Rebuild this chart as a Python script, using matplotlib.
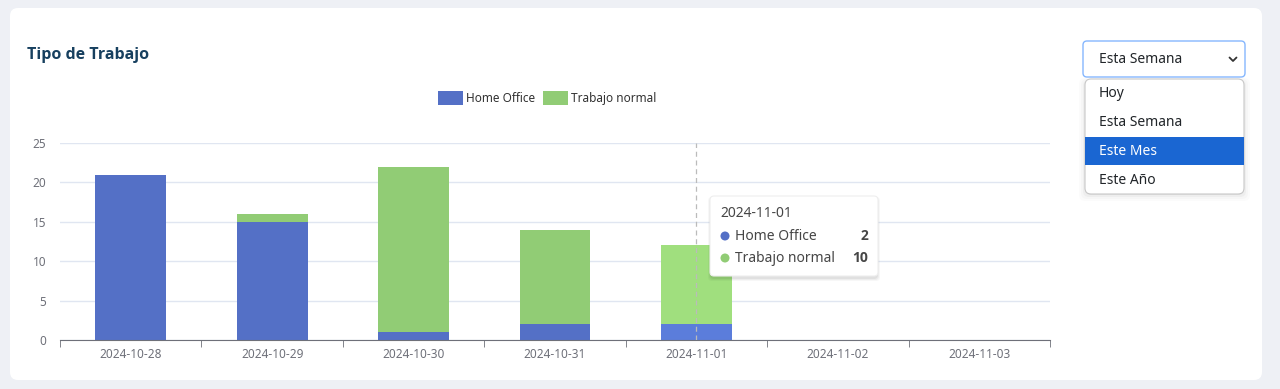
import matplotlib.pyplot as plt
from matplotlib.patches import FancyBboxPatch, Rectangle, Circle
import numpy as np

fechas = ['2024-10-28', '2024-10-29', '2024-10-30', '2024-10-31', '2024-11-01', '2024-11-02', '2024-11-03']
home_office = [21, 15, 1, 2, 2, 0, 0]
trabajo_normal = [0, 1, 21, 12, 10, 0, 0]
y_ticks = [0, 5, 10, 15, 20, 25]
opciones = ['Hoy', 'Esta Semana', 'Este Mes', 'Este Año']
idx_tooltip = 4

plt.rcParams['font.family'] = ['Noto Sans', 'DejaVu Sans']

AZUL = '#5470c6'
VERDE = '#91cc75'
AZUL_HL = '#5b7ddb'
VERDE_HL = '#a0df7e'
GRIS = '#6e7079'

W, H = 1280, 389
fig = plt.figure(figsize=(W / 100, H / 100), dpi=100)
fig.patch.set_facecolor('#eef0f5')

# fondo / tarjeta (coordenadas en pixeles)
bg = fig.add_axes([0, 0, 1, 1], zorder=0)
bg.set_xlim(0, W)
bg.set_ylim(H, 0)
bg.axis('off')
bg.add_patch(FancyBboxPatch((10, 8), 1252, 372, boxstyle='round,pad=0,rounding_size=8',
                            fc='white', ec='none'))
bg.text(27, 55, 'Tipo de Trabajo', fontsize=11.5, fontweight='bold', color='#17405f',
        family=['Open Sans', 'DejaVu Sans'], va='center', ha='left')

# grafico
ax = fig.add_axes([60 / W, 1 - 340 / H, 990 / W, 197 / H], zorder=1)
ax.set_facecolor('none')
x = np.arange(len(fechas))
col_az = [AZUL_HL if i == idx_tooltip else AZUL for i in x]
col_ve = [VERDE_HL if i == idx_tooltip else VERDE for i in x]
ax.bar(x, home_office, width=0.5, color=col_az, zorder=2)
ax.bar(x, trabajo_normal, width=0.5, bottom=home_office, color=col_ve, zorder=2)
ax.axvline(idx_tooltip, color='#bbbbbb', lw=0.9, ls=(0, (4, 3)), zorder=3)

ax.set_xlim(-0.5, len(fechas) - 0.5)
ax.set_ylim(0, 25)
ax.set_yticks(y_ticks)
ax.yaxis.grid(True, color='#e0e6f1', lw=1)
ax.set_axisbelow(True)
for s in ['top', 'right', 'left']:
    ax.spines[s].set_visible(False)
ax.spines['bottom'].set_color(GRIS)
ax.set_xticks(x)
ax.set_xticklabels(fechas)
ax.set_xticks(np.arange(len(fechas) + 1) - 0.5, minor=True)
ax.tick_params(axis='x', which='major', length=0, pad=6, labelsize=8.5, labelcolor=GRIS)
ax.tick_params(axis='x', which='minor', length=5, color=GRIS)
ax.tick_params(axis='y', length=0, pad=10, labelsize=8.5, labelcolor=GRIS)

# capa superior (leyenda, tooltip, menu)
fg = fig.add_axes([0, 0, 1, 1], zorder=5)
fg.set_xlim(0, W)
fg.set_ylim(H, 0)
fg.axis('off')

# leyenda
fg.add_patch(Rectangle((438, 91), 25, 14, fc=AZUL, ec='none'))
fg.text(466, 98, 'Home Office', fontsize=8.5, color='#333333', va='center')
fg.add_patch(Rectangle((543, 91), 25, 14, fc=VERDE, ec='none'))
fg.text(571, 98, 'Trabajo normal', fontsize=8.5, color='#333333', va='center')

# tooltip
for k, a in enumerate([0.05, 0.04, 0.03]):
    fg.add_patch(FancyBboxPatch((710 - k, 197 - k + 2), 168 + 2 * k, 80 + 2 * k,
                                boxstyle='round,pad=0,rounding_size=4', fc='black', ec='none', alpha=a))
fg.add_patch(FancyBboxPatch((710, 196), 168, 80, boxstyle='round,pad=0,rounding_size=4',
                            fc='white', ec='#eeeeee', lw=0.8))
fg.text(720, 213, fechas[idx_tooltip], fontsize=10, color='#464646', va='center')
fg.add_patch(Circle((725, 236), 4.5, fc=AZUL, ec='none'))
fg.text(735, 236, 'Home Office', fontsize=10, color='#464646', va='center')
fg.text(868, 236, str(home_office[idx_tooltip]), fontsize=10, fontweight='bold',
        family=['Open Sans', 'DejaVu Sans'], color='#464646', va='center', ha='right')
fg.add_patch(Circle((725, 258), 4.5, fc=VERDE, ec='none'))
fg.text(735, 258, 'Trabajo normal', fontsize=10, color='#464646', va='center')
fg.text(868, 258, str(trabajo_normal[idx_tooltip]), fontsize=10, fontweight='bold',
        family=['Open Sans', 'DejaVu Sans'], color='#464646', va='center', ha='right')

# selector
fg.add_patch(FancyBboxPatch((1083, 41), 162, 36, boxstyle='round,pad=0,rounding_size=4',
                            fc='white', ec='#86b7fe', lw=1))
fg.text(1099, 59, 'Esta Semana', fontsize=10, color='#212529', va='center')
fg.plot([1229.5, 1233, 1236.5], [57.5, 61, 57.5], color='#333333', lw=1.3, solid_capstyle='round')

# menu desplegable
for k, a in enumerate([0.04, 0.03, 0.02, 0.015]):
    fg.add_patch(FancyBboxPatch((1085 - 2 * k, 81 - k), 159 + 4 * k, 114 + 3 * k,
                                boxstyle='round,pad=0,rounding_size=6', fc='black', ec='none', alpha=a))
fg.add_patch(FancyBboxPatch((1085, 79), 159, 115, boxstyle='round,pad=0,rounding_size=6',
                            fc='white', ec='#c8c8c8', lw=0.8))
fg.add_patch(Rectangle((1085, 137), 159, 28, fc='#1a66d2', ec='none'))
for i, op in enumerate(opciones):
    yy = 93 + i * 29
    fg.text(1099, yy, op, fontsize=10, color='white' if op == 'Este Mes' else '#212529', va='center')

fig.savefig('out.png', dpi=100, facecolor=fig.get_facecolor())
